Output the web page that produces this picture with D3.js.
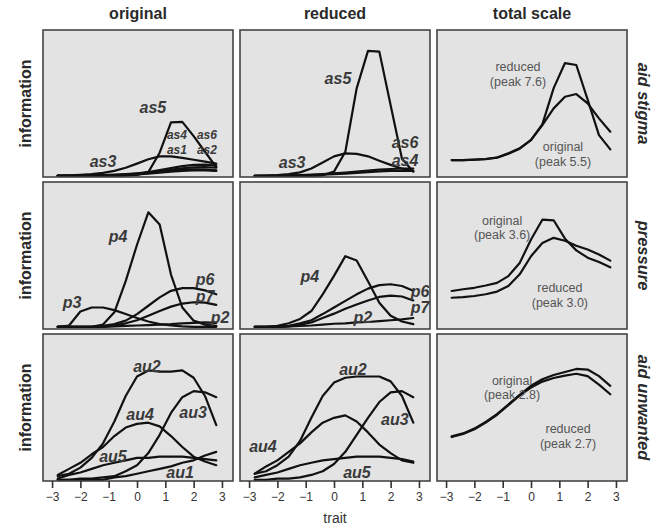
<!DOCTYPE html>
<html><head><meta charset="utf-8">
<script src="https://cdn.jsdelivr.net/npm/d3@7/dist/d3.min.js"></script>
<style>
body{margin:0;background:#fff;}
svg{display:block;font-family:"Liberation Sans",Arial,Helvetica,sans-serif;}
</style>
</head><body>
<svg id="chart" width="658" height="528"></svg>
<script>
// ---------------- data ----------------
const trait = [-2.8,-2.4,-2.0,-1.6,-1.2,-0.8,-0.4,0,0.4,0.8,1.2,1.6,2.0,2.4,2.8];
const columnTitles = ["original","reduced","total scale"];
const rowTitles = ["aid stigma","pressure","aid unwanted"];
const tickLabels = [-3,-2,-1,0,1,2,3];

// aid stigma items
const as1_original = [0,0,0.01,0.02,0.03,0.05,0.07,0.1,0.14,0.18,0.22,0.25,0.26,0.25,0.22];
const as2_original = [0,0,0,0.01,0.01,0.02,0.04,0.06,0.09,0.13,0.17,0.2,0.22,0.22,0.2];
const as3_original = [0.01,0.02,0.04,0.07,0.12,0.2,0.33,0.5,0.68,0.8,0.8,0.74,0.66,0.58,0.5];
const as4_original = [0,0,0,0.01,0.02,0.03,0.05,0.09,0.15,0.23,0.32,0.4,0.45,0.46,0.42];
const as5_original = [0,0,0,0,0,0,0.01,0.04,0.15,0.95,2.2,2.22,1.63,0.99,0.36];
const as6_original = [0,0,0,0,0.01,0.02,0.04,0.07,0.12,0.18,0.25,0.31,0.35,0.36,0.33];
const as3_reduced = [0,0.01,0.03,0.07,0.14,0.3,0.55,0.8,0.92,0.9,0.8,0.62,0.45,0.3,0.2];
const as4_reduced = [0,0,0,0.01,0.02,0.03,0.05,0.07,0.09,0.12,0.15,0.18,0.2,0.21,0.2];
const as5_reduced = [0,0,0,0,0,0,0.02,0.17,0.99,3.6,5.14,5.11,2.9,0.7,0.17];
const as6_reduced = [0,0,0.01,0.02,0.03,0.05,0.07,0.1,0.13,0.17,0.21,0.25,0.28,0.3,0.3];
const stigmaTotal_original = [1.03,1.03,1.06,1.1,1.2,1.48,1.82,2.38,3.4,4.53,5.32,5.5,4.87,3.85,2.95];
const stigmaTotal_reduced = [1.02,1.02,1.05,1.09,1.19,1.46,1.8,2.4,3.45,5.9,7.6,7.47,5.12,2.72,1.75];

// pressure items
const p2_original = [0,0,0,0,0,0.01,0.02,0.03,0.04,0.05,0.06,0.08,0.09,0.1,0.09];
const p3_original = [0,0.03,0.35,0.44,0.44,0.38,0.29,0.2,0.12,0.06,0.03,0.01,0,0,0];
const p4_original = [0,0,0,0,0.05,0.33,1.04,1.87,2.61,2.33,1.19,0.44,0.14,0.05,0.02];
const p6_original = [0,0,0,0,0.02,0.06,0.14,0.29,0.48,0.67,0.82,0.88,0.88,0.83,0.74];
const p7_original = [0,0,0,0,0,0.03,0.08,0.15,0.25,0.36,0.46,0.53,0.56,0.55,0.5];
const p2_reduced = [0,0,0,0.01,0.02,0.03,0.05,0.07,0.08,0.1,0.11,0.13,0.15,0.17,0.2];
const p4_reduced = [0,0,0.02,0.08,0.18,0.36,0.74,1.16,1.61,1.51,1.04,0.55,0.25,0.12,0.06];
const p6_reduced = [0,0,0,0.02,0.08,0.15,0.29,0.44,0.59,0.74,0.87,0.95,0.97,0.93,0.82];
const p7_reduced = [0,0,0,0.01,0.05,0.1,0.2,0.3,0.41,0.51,0.6,0.68,0.71,0.69,0.6];
const pressureTotal_original = [1.16,1.22,1.27,1.35,1.44,1.67,2.12,2.92,3.6,3.58,2.95,2.55,2.3,2.15,1.97];
const pressureTotal_reduced = [0.93,0.95,0.99,1.05,1.14,1.33,1.73,2.35,2.8,2.98,2.88,2.71,2.58,2.41,2.2];

// aid unwanted items
const au1_original = [0,0,0,0,0,0.02,0.03,0.05,0.07,0.09,0.11,0.14,0.16,0.2,0.23];
const au2_original = [0.03,0.05,0.1,0.18,0.3,0.48,0.69,0.85,0.9,0.89,0.89,0.9,0.84,0.69,0.45];
const au3_original = [0,0,0.01,0.01,0.02,0.03,0.07,0.12,0.22,0.37,0.55,0.68,0.73,0.72,0.68];
const au4_original = [0.04,0.09,0.14,0.21,0.27,0.36,0.43,0.46,0.47,0.44,0.36,0.27,0.19,0.15,0.12];
const au5_original = [0.01,0.04,0.06,0.09,0.12,0.14,0.16,0.18,0.18,0.19,0.19,0.19,0.18,0.17,0.16];
const au2_reduced = [0.05,0.07,0.12,0.19,0.32,0.51,0.69,0.8,0.84,0.85,0.85,0.85,0.81,0.69,0.47];
const au3_reduced = [0,0,0.01,0.01,0.02,0.04,0.07,0.13,0.23,0.37,0.51,0.64,0.72,0.73,0.68];
const au4_reduced = [0.05,0.11,0.16,0.23,0.3,0.39,0.47,0.51,0.53,0.48,0.39,0.29,0.22,0.16,0.14];
const au5_reduced = [0.02,0.04,0.06,0.09,0.12,0.14,0.16,0.17,0.18,0.19,0.19,0.19,0.18,0.17,0.15];
const unwantedTotal_original = [1.67,1.72,1.8,1.91,2.04,2.2,2.36,2.51,2.62,2.69,2.74,2.79,2.78,2.67,2.51];
const unwantedTotal_reduced = [1.66,1.71,1.79,1.9,2.03,2.19,2.35,2.48,2.58,2.64,2.68,2.71,2.67,2.53,2.37];

// item label anchors in data units: [text, trait, information, small?]
const stigmaOriginalLabels = [["as5",0.56,2.83],["as4",1.41,1.68,1],["as6",2.47,1.68,1],["as1",1.41,1.06,1],["as2",2.47,1.06,1],["as3",-1.2,0.57]];
const stigmaReducedLabels = [["as5",0.14,4.02],["as6",2.51,1.35],["as4",2.51,0.61],["as3",-1.48,0.53]];
const pressureOriginalLabels = [["p4",-0.67,2.05],["p3",-2.29,0.56],["p6",2.4,1.08],["p7",2.4,0.7],["p2",2.93,0.22]];
const pressureReducedLabels = [["p4",-0.85,1.15],["p2",1.02,0.22],["p6",3.04,0.81],["p7",3.04,0.45]];
const unwantedOriginalLabels = [["au2",0.35,0.93],["au4",0.11,0.54],["au3",1.98,0.55],["au5",-0.85,0.19],["au1",1.52,0.06]];
const unwantedReducedLabels = [["au2",0.67,0.91],["au3",2.15,0.5],["au4",-2.51,0.27],["au5",0.81,0.06]];
// total-scale two-line labels: [line1, line2, trait, information of first line]
const stigmaTotalLabels = [["reduced","(peak 7.6)",-0.46,7.26],["original","(peak 5.5)",1.13,1.84]];
const pressureTotalLabels = [["original","(peak 3.6)",-1.02,3.53],["reduced","(peak 3.0)",1.02,1.22]];
const unwantedTotalLabels = [["original","(peak 2.8)",-0.67,2.58],["reduced","(peak 2.7)",1.31,1.77]];

// ---------------- layout ----------------
const panelLeft = [43, 240, 437], panelTop = [30, 182, 334];
const pw = 190, ph = 147;
const itemDomains = [[-0.05, 6.0], [-0.05, 3.3], [-0.01, 1.2]];
const totalDomains = [[-0.12, 9.84], [-0.14, 4.89], [0.93, 3.37]];

const panels = [
  [[as1_original,as2_original,as3_original,as4_original,as5_original,as6_original],
   [as3_reduced,as4_reduced,as5_reduced,as6_reduced],
   [stigmaTotal_original,stigmaTotal_reduced]],
  [[p2_original,p3_original,p4_original,p6_original,p7_original],
   [p2_reduced,p4_reduced,p6_reduced,p7_reduced],
   [pressureTotal_original,pressureTotal_reduced]],
  [[au1_original,au2_original,au3_original,au4_original,au5_original],
   [au2_reduced,au3_reduced,au4_reduced,au5_reduced],
   [unwantedTotal_original,unwantedTotal_reduced]]
];
const panelLabels = [
  [stigmaOriginalLabels, stigmaReducedLabels, stigmaTotalLabels],
  [pressureOriginalLabels, pressureReducedLabels, pressureTotalLabels],
  [unwantedOriginalLabels, unwantedReducedLabels, unwantedTotalLabels]
];

const svg = d3.select("#chart");
const x = d3.scaleLinear().domain([-3.32, 3.39]).range([0, pw]);

svg.selectAll("text.coltitle").data(columnTitles).enter().append("text")
  .attr("class","coltitle")
  .attr("x",(d,i)=>panelLeft[i]+pw/2).attr("y",19)
  .attr("text-anchor","middle").attr("font-size",16).attr("font-weight","bold").attr("fill","#2a2a2a")
  .text(d=>d);

for (let r = 0; r < 3; r++) {
  const cy = panelTop[r] + ph/2;
  svg.append("text").attr("transform",`translate(25,${cy}) rotate(-90)`)
    .attr("text-anchor","middle").attr("dominant-baseline","central")
    .attr("font-size",16).attr("font-weight","bold").attr("fill","#2a2a2a").text("information");
  svg.append("text").attr("transform",`translate(644,${cy}) rotate(90)`)
    .attr("text-anchor","middle").attr("dominant-baseline","central")
    .attr("font-size",16.5).attr("font-weight","bold").attr("font-style","italic").attr("fill","#2a2a2a").text(rowTitles[r]);

  for (let c = 0; c < 3; c++) {
    const g = svg.append("g").attr("transform",`translate(${panelLeft[c]},${panelTop[r]})`);
    const y = d3.scaleLinear().domain(c === 2 ? totalDomains[r] : itemDomains[r]).range([ph, 0]);
    g.append("rect").attr("width",pw).attr("height",ph).attr("fill","#e3e3e3");
    const line = d3.line().x((d,i)=>x(trait[i])).y(d=>y(d));
    g.selectAll("path.curve").data(panels[r][c]).enter().append("path")
      .attr("class","curve").attr("d",line)
      .attr("fill","none").attr("stroke","#111").attr("stroke-width",2.2)
      .attr("stroke-linejoin","round").attr("stroke-linecap","round");
    if (c < 2) {
      g.selectAll("text.lab").data(panelLabels[r][c]).enter().append("text")
        .attr("class","lab")
        .attr("x",d=>x(d[1])).attr("y",d=>y(d[2]))
        .attr("text-anchor","middle").attr("dominant-baseline","central")
        .attr("font-size",d=> d[3] ? 12 : 16)
        .attr("font-weight","bold").attr("font-style","italic")
        .attr("fill","#3a3a3a")
        .text(d=>d[0]);
    } else {
      const t = g.selectAll("text.lab").data(panelLabels[r][c]).enter().append("text")
        .attr("class","lab")
        .attr("x",d=>x(d[2])).attr("y",d=>y(d[3]) + 3)
        .attr("text-anchor","middle")
        .attr("font-size",12.5).attr("fill","#555");
      t.append("tspan").attr("x",d=>x(d[2])).text(d=>d[0]);
      t.append("tspan").attr("x",d=>x(d[2])).attr("dy",14.5).text(d=>d[1]);
    }
    g.append("rect").attr("width",pw).attr("height",ph).attr("fill","none")
      .attr("stroke","#444").attr("stroke-width",1.6);
    if (r === 2) {
      const ax = g.append("g").attr("transform",`translate(0,${ph})`)
        .call(d3.axisBottom(x).tickValues(tickLabels).tickSize(7).tickPadding(4).tickFormat(d3.format("d")));
      ax.select(".domain").remove();
      ax.selectAll(".tick line").attr("stroke","#333").attr("stroke-width",1.6);
      ax.selectAll(".tick text").attr("font-size",12).attr("fill","#333")
        .attr("font-family","'Liberation Sans',Arial,sans-serif");
    }
  }
}
svg.append("text").attr("x",335).attr("y",523).attr("text-anchor","middle")
  .attr("font-size",14).attr("fill","#333").text("trait");
</script>
</body></html>
